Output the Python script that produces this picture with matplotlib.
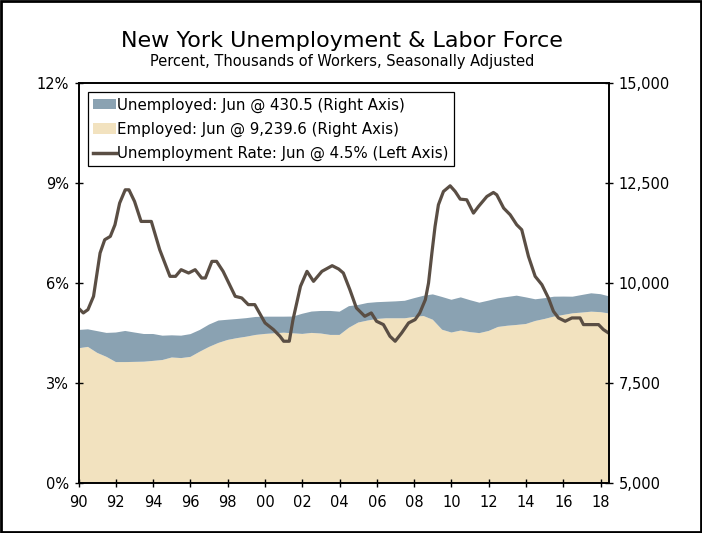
import matplotlib.pyplot as plt
from matplotlib.patches import Patch, Rectangle
from matplotlib.lines import Line2D
from matplotlib.ticker import FuncFormatter

# half-year readings, thousands of workers
area_dates = [1990.0, 1990.5, 1991.0, 1991.5, 1992.0, 1992.5, 1993.0, 1993.5, 1994.0, 1994.5,
              1995.0, 1995.5, 1996.0, 1996.5, 1997.0, 1997.5, 1998.0, 1998.5, 1999.0, 1999.5,
              2000.0, 2000.5, 2001.0, 2001.5, 2002.0, 2002.5, 2003.0, 2003.5, 2004.0, 2004.5,
              2005.0, 2005.5, 2006.0, 2006.5, 2007.0, 2007.5, 2008.0, 2008.5, 2009.0, 2009.5,
              2010.0, 2010.5, 2011.0, 2011.5, 2012.0, 2012.5, 2013.0, 2013.5, 2014.0, 2014.5,
              2015.0, 2015.5, 2016.0, 2016.5, 2017.0, 2017.5, 2018.0, 2018.42]
employed = [8366, 8400, 8250, 8150, 8020, 8020, 8025, 8030, 8050, 8072,
            8135, 8120, 8150, 8280, 8400, 8500, 8575, 8620, 8656, 8700,
            8725, 8741, 8756, 8740, 8725, 8750, 8735, 8700, 8700, 8880,
            9010, 9060, 9100, 9117, 9117, 9117, 9150, 9174, 9080, 8830,
            8760, 8810, 8770, 8745, 8800, 8900, 8930, 8950, 8974, 9050,
            9100, 9160, 9200, 9241, 9260, 9282, 9270, 9240]
unemployed = [458, 440, 545, 600, 740, 779, 735, 693, 673, 609,
              555, 561, 570, 544, 560, 560, 505, 479, 464, 450,
              432, 416, 401, 420, 505, 535, 565, 600, 582, 540,
              440, 440, 420, 413, 423, 438, 470, 506, 635, 820,
              820, 830, 800, 762, 760, 717, 720, 733, 666, 542,
              520, 497, 460, 416, 440, 460, 450, 430]

# unemployment rate, percent
rate_dates = [1990.0, 1990.25, 1990.5, 1990.8, 1991.15, 1991.4, 1991.7, 1991.95, 1992.2, 1992.5,
              1992.7, 1993.0, 1993.35, 1993.9, 1994.35, 1994.9, 1995.2, 1995.5, 1995.9, 1996.25,
              1996.6, 1996.8, 1997.15, 1997.4, 1997.75, 1998.4, 1998.75, 1999.1, 1999.45, 2000.0,
              2000.45, 2000.8, 2001.0, 2001.3, 2001.5, 2001.9, 2002.25, 2002.6, 2003.05, 2003.6,
              2003.95, 2004.2, 2004.55, 2004.9, 2005.35, 2005.7, 2005.98, 2006.35, 2006.7, 2006.98,
              2007.33, 2007.7, 2008.05, 2008.3, 2008.6, 2008.77, 2008.95, 2009.12, 2009.3, 2009.57,
              2009.93, 2010.2, 2010.47, 2010.82, 2011.18, 2011.45, 2011.9, 2012.25, 2012.43, 2012.8,
              2013.15, 2013.5, 2013.77, 2014.13, 2014.49, 2014.85, 2015.2, 2015.47, 2015.74, 2016.1,
              2016.46, 2016.9, 2017.08, 2017.89, 2018.15, 2018.42]
rate = [5.24, 5.1, 5.2, 5.6, 6.9, 7.3, 7.4, 7.75, 8.4, 8.8,
        8.8, 8.45, 7.85, 7.85, 7.0, 6.2, 6.2, 6.4, 6.3, 6.4,
        6.15, 6.15, 6.65, 6.65, 6.35, 5.6, 5.55, 5.35, 5.35, 4.8,
        4.6, 4.4, 4.25, 4.25, 4.9, 5.9, 6.35, 6.05, 6.35, 6.52,
        6.42, 6.3, 5.8, 5.25, 5.0, 5.1, 4.85, 4.75, 4.4, 4.25,
        4.5, 4.8, 4.9, 5.1, 5.5, 6.0, 6.9, 7.7, 8.35, 8.75,
        8.92, 8.75, 8.52, 8.5, 8.1, 8.3, 8.6, 8.72, 8.65, 8.25,
        8.05, 7.75, 7.6, 6.8, 6.2, 5.95, 5.55, 5.15, 4.95, 4.85,
        4.95, 4.95, 4.75, 4.75, 4.6, 4.5]

year_ticks = list(range(1990, 2019, 2))
left_ticks = [0, 3, 6, 9, 12]
right_ticks = [5000, 7500, 10000, 12500, 15000]

blue = '#8aa2b2'
beige = '#f2e2bf'
brown = '#5a4e44'

plt.rcParams['font.family'] = 'DejaVu Sans'
plt.rcParams['font.size'] = 10.5

fig = plt.figure(figsize=(7.02, 5.33), dpi=100)
ax = fig.add_axes([0.112, 0.0944, 0.7555, 0.7493])

# areas are stacked from the 5,000 floor of the right axis
ax.stackplot(area_dates, [e - 5000 for e in employed], unemployed,
             colors=[beige, blue], linewidth=0)
ax.set_ylim(0, 10000)
ax.set_xlim(1990, 2018.45)
ax.set_xticks(year_ticks)
ax.set_xticklabels([f'{y % 100:02d}' for y in year_ticks])

ax2 = ax.twinx()
ax2.plot(rate_dates, rate, color=brown, lw=2.3, solid_joinstyle='round')
ax2.set_ylim(0, 12)
ax2.set_yticks(left_ticks)
ax2.set_yticklabels([f'{t}%' for t in left_ticks])
ax2.yaxis.tick_left()
ax2.yaxis.set_label_position('left')

ax.yaxis.tick_right()
ax.yaxis.set_label_position('right')
ax.set_yticks([t - 5000 for t in right_ticks])
ax.yaxis.set_major_formatter(FuncFormatter(lambda v, p: f'{v + 5000:,.0f}'))

for a in (ax, ax2):
    a.tick_params(direction='inout', length=6, width=1, colors='black', pad=4)
    for s in a.spines.values():
        s.set_linewidth(1.2)
ax.tick_params(axis='x', pad=6)

handles = [Patch(facecolor=blue, edgecolor='none'),
           Patch(facecolor=beige, edgecolor='none'),
           Line2D([], [], color=brown, lw=2.5)]
labels = ['Unemployed: Jun @ 430.5 (Right Axis)',
          'Employed: Jun @ 9,239.6 (Right Axis)',
          'Unemployment Rate: Jun @ 4.5% (Left Axis)']
leg = ax2.legend(handles, labels, loc='upper left', bbox_to_anchor=(0.018, 0.978),
                 fancybox=False, edgecolor='black', framealpha=1, borderaxespad=0,
                 handlelength=1.5, handleheight=0.7, handletextpad=0.1,
                 labelspacing=0.6, borderpad=0.35, fontsize=10.8)
leg.get_frame().set_linewidth(0.9)

fig.text(0.487, 0.923, 'New York Unemployment & Labor Force', ha='center', va='center', fontsize=16)
fig.text(0.487, 0.884, 'Percent, Thousands of Workers, Seasonally Adjusted', ha='center', va='center', fontsize=10.5)

fig.patches.append(Rectangle((0.001, 0.001), 0.997, 0.997, transform=fig.transFigure,
                             fill=False, edgecolor='black', linewidth=2))

fig.savefig('out.png', dpi=100)
